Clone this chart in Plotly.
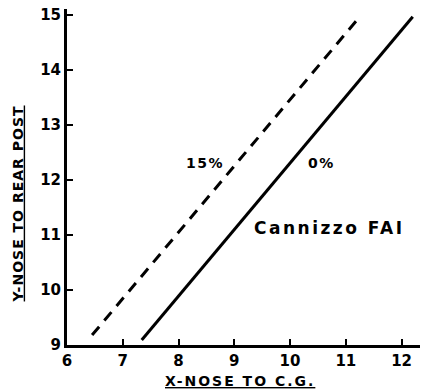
import plotly.graph_objects as go

# Straight-line relationships, endpoints read in chart units
x_0pct = [7.34, 12.2]
y_0pct = [9.09, 14.96]
x_15pct = [6.45, 11.25]
y_15pct = [9.18, 14.96]

x_ticks = [6, 7, 8, 9, 10, 11, 12]
y_ticks = [9, 10, 11, 12, 13, 14, 15]

FONT = "DejaVu Sans"
INK = "black"


def spaced(text, px):
    return f'<span style="letter-spacing:{px}px"><b>{text}</b></span>'


fig = go.Figure()
fig.add_trace(go.Scatter(x=x_15pct, y=y_15pct, mode="lines",
                         line=dict(color=INK, width=3, dash="11px,8px"),
                         showlegend=False, hoverinfo="skip"))
fig.add_trace(go.Scatter(x=x_0pct, y=y_0pct, mode="lines",
                         line=dict(color=INK, width=3),
                         showlegend=False, hoverinfo="skip"))

labels = [
    (8.47, 12.31, spaced("15%", 1.5), 14),
    (10.57, 12.31, spaced("0%", 1.5), 14),
    (10.71, 11.13, spaced("Cannizzo FAI", 2.5), 17),
]
for x, y, t, s in labels:
    fig.add_annotation(x=x, y=y, text=t, showarrow=False,
                       font=dict(family=FONT, size=s, color=INK))

# Axis titles (underlined)
fig.add_annotation(xref="paper", yref="paper", x=0.49, y=-0.108,
                   xanchor="center", yanchor="middle", showarrow=False,
                   text='<u><span style="letter-spacing:2px"><b>X-NOSE TO C.G.</b></span></u>',
                   font=dict(family=FONT, size=14, color=INK))
fig.add_annotation(xref="paper", yref="paper", x=-0.14, y=0.42,
                   xanchor="center", yanchor="middle", showarrow=False,
                   textangle=-90,
                   text='<u><span style="letter-spacing:1px"><b>Y-NOSE TO REAR POST</b></span></u>',
                   font=dict(family=FONT, size=14, color=INK))

axis_common = dict(showgrid=False, zeroline=False, showline=True,
                   linecolor=INK, linewidth=3, ticks="inside", ticklen=6,
                   tickwidth=2, tickcolor=INK,
                   tickfont=dict(family=FONT, size=15, color=INK, weight="bold"))

fig.update_xaxes(range=[6, 12.33], tickvals=x_ticks,
                 ticktext=[str(v) for v in x_ticks], ticklabelstandoff=0,
                 **axis_common)
fig.update_yaxes(range=[9, 15.1], tickvals=y_ticks,
                 ticktext=[str(v) for v in y_ticks], **axis_common)

fig.update_layout(width=422, height=391,
                  margin=dict(l=67, r=2, t=9, b=46),
                  plot_bgcolor="white", paper_bgcolor="white")

fig.write_html("out.html")
